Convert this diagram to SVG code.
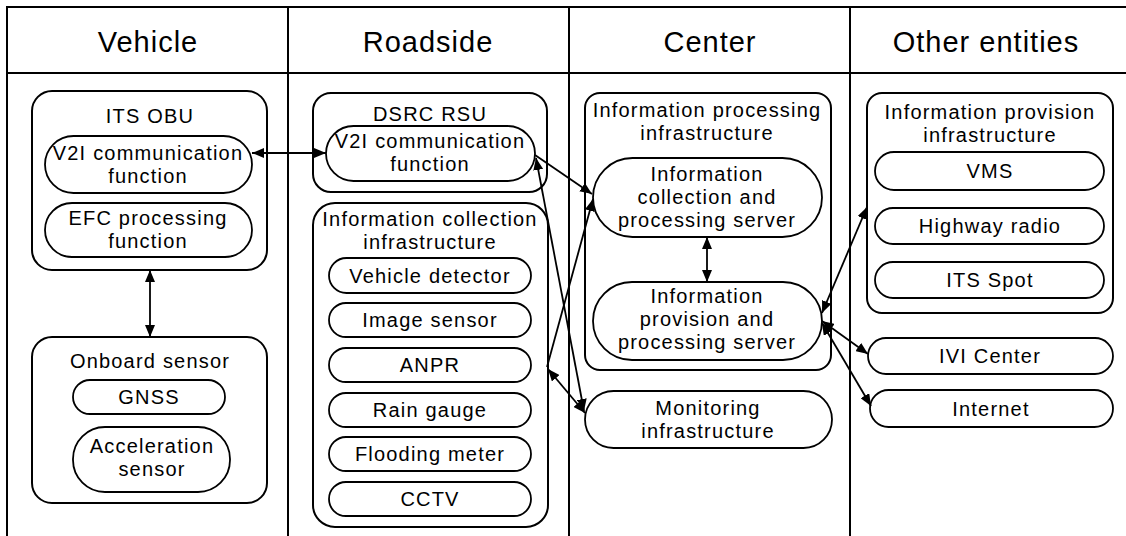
<svg xmlns="http://www.w3.org/2000/svg" width="1126" height="536" viewBox="0 0 1126 536">
<defs>
<style>
.grid{stroke:#000;stroke-width:2;fill:none}
.box{fill:#fff;stroke:#000;stroke-width:2}
.pill{fill:#fff;stroke:#000;stroke-width:1.8}
.t{font-family:"Liberation Sans",Arial,sans-serif;font-size:20px;letter-spacing:1.2px;fill:#000;text-anchor:middle}
.h{font-family:"Liberation Sans",Arial,sans-serif;font-size:29px;letter-spacing:1px;fill:#000;text-anchor:middle}
.c{stroke:#000;stroke-width:1.8;fill:none}
</style>
<marker id="ah" viewBox="0 0 12 10" refX="12" refY="5" markerWidth="12" markerHeight="10" markerUnits="userSpaceOnUse" orient="auto-start-reverse">
<path d="M0,0 L12,5 L0,10 z" fill="#000"/>
</marker>
</defs>
<rect width="1126" height="536" fill="#fff"/>
<g id="table">
<path class="grid" d="M7,536 V7 H1126 M7,73 H1126 M288,7 V536 M569,7 V536 M850,7 V536"/>
<text class="h" x="148" y="52">Vehicle</text>
<text class="h" x="428" y="52">Roadside</text>
<text class="h" x="710" y="52">Center</text>
<text class="h" x="986" y="52">Other entities</text>
</g>
<g id="its-obu">
<rect class="box" x="32" y="91" width="235" height="179" rx="20"/>
<text class="t" x="150" y="123">ITS OBU</text>
</g>
<g id="obu-v2i">
<rect class="pill" x="45" y="136" width="207" height="57" rx="28.5"/>
<text class="t" x="148" y="160">V2I communication</text>
<text class="t" x="148" y="183">function</text>
</g>
<g id="efc">
<rect class="pill" x="45" y="203" width="207" height="54" rx="27"/>
<text class="t" x="148" y="225">EFC processing</text>
<text class="t" x="148" y="248">function</text>
</g>
<g id="onboard-sensor">
<rect class="box" x="32" y="337" width="235" height="166" rx="20"/>
<text class="t" x="150" y="368">Onboard sensor</text>
</g>
<g id="gnss">
<rect class="pill" x="73" y="380" width="152" height="34" rx="17"/>
<text class="t" x="149" y="404">GNSS</text>
</g>
<g id="accel">
<rect class="pill" x="73" y="427" width="157" height="65" rx="32"/>
<text class="t" x="152" y="453">Acceleration</text>
<text class="t" x="152" y="476">sensor</text>
</g>
<g id="dsrc-rsu">
<rect class="box" x="313" y="93" width="234" height="99" rx="18"/>
<text class="t" x="430" y="121">DSRC RSU</text>
</g>
<g id="rsu-v2i">
<rect class="pill" x="326" y="126" width="209" height="55" rx="27.5"/>
<text class="t" x="430" y="148">V2I communication</text>
<text class="t" x="430" y="171">function</text>
</g>
<g id="info-collection-infra">
<rect class="box" x="313" y="203" width="235" height="324" rx="22"/>
<text class="t" x="430" y="226">Information collection</text>
<text class="t" x="430" y="249">infrastructure</text>
</g>
<g id="vehicle-detector">
<rect class="pill" x="329" y="258" width="202" height="35" rx="17.5"/>
<text class="t" x="430" y="283">Vehicle detector</text>
</g>
<g id="image-sensor">
<rect class="pill" x="329" y="303" width="202" height="34" rx="17"/>
<text class="t" x="430" y="327">Image sensor</text>
</g>
<g id="anpr">
<rect class="pill" x="329" y="348" width="202" height="34" rx="17"/>
<text class="t" x="430" y="372">ANPR</text>
</g>
<g id="rain-gauge">
<rect class="pill" x="329" y="393" width="202" height="34" rx="17"/>
<text class="t" x="430" y="417">Rain gauge</text>
</g>
<g id="flooding-meter">
<rect class="pill" x="329" y="437" width="202" height="34" rx="17"/>
<text class="t" x="430" y="461">Flooding meter</text>
</g>
<g id="cctv">
<rect class="pill" x="329" y="482" width="202" height="34" rx="17"/>
<text class="t" x="430" y="506">CCTV</text>
</g>
<g id="info-processing-infra">
<rect class="box" x="585" y="93" width="246" height="277" rx="15"/>
<text class="t" x="707" y="117">Information processing</text>
<text class="t" x="707" y="140">infrastructure</text>
</g>
<g id="collection-server">
<rect class="pill" x="593" y="158" width="229" height="79" rx="39.5"/>
<text class="t" x="707" y="181">Information</text>
<text class="t" x="707" y="204">collection and</text>
<text class="t" x="707" y="227">processing server</text>
</g>
<g id="provision-server">
<rect class="pill" x="593" y="282" width="229" height="78" rx="39"/>
<text class="t" x="707" y="303">Information</text>
<text class="t" x="707" y="326">provision and</text>
<text class="t" x="707" y="349">processing server</text>
</g>
<g id="monitoring">
<rect class="pill" x="585" y="391" width="247" height="57" rx="28.5"/>
<text class="t" x="708" y="415">Monitoring</text>
<text class="t" x="708" y="438">infrastructure</text>
</g>
<g id="info-provision-infra">
<rect class="box" x="867" y="93" width="246" height="220" rx="15"/>
<text class="t" x="990" y="119">Information provision</text>
<text class="t" x="990" y="142">infrastructure</text>
</g>
<g id="vms">
<rect class="pill" x="875" y="152" width="229" height="38" rx="19"/>
<text class="t" x="990" y="178">VMS</text>
</g>
<g id="highway-radio">
<rect class="pill" x="875" y="208" width="229" height="36" rx="18"/>
<text class="t" x="990" y="233">Highway radio</text>
</g>
<g id="its-spot">
<rect class="pill" x="875" y="262" width="229" height="36" rx="18"/>
<text class="t" x="990" y="287">ITS Spot</text>
</g>
<g id="ivi-center">
<rect class="pill" x="868" y="338" width="245" height="36" rx="18"/>
<text class="t" x="990" y="363">IVI Center</text>
</g>
<g id="internet">
<rect class="pill" x="870" y="390" width="243" height="37" rx="18.5"/>
<text class="t" x="991" y="416">Internet</text>
</g>
<g id="connectors">
<line class="c" x1="252" y1="153" x2="326" y2="153" marker-start="url(#ah)" marker-end="url(#ah)"/>
<line class="c" x1="150" y1="270" x2="150" y2="337" marker-start="url(#ah)" marker-end="url(#ah)"/>
<line class="c" x1="535" y1="155" x2="592" y2="194" marker-end="url(#ah)"/>
<line class="c" x1="536" y1="158" x2="584" y2="411" marker-start="url(#ah)" marker-end="url(#ah)"/>
<line class="c" x1="547" y1="367" x2="593" y2="199" marker-end="url(#ah)"/>
<line class="c" x1="548" y1="369" x2="585" y2="413" marker-start="url(#ah)" marker-end="url(#ah)"/>
<line class="c" x1="707" y1="237" x2="707" y2="282" marker-start="url(#ah)" marker-end="url(#ah)"/>
<line class="c" x1="822" y1="313" x2="867" y2="207" marker-start="url(#ah)" marker-end="url(#ah)"/>
<line class="c" x1="822" y1="321" x2="868" y2="354" marker-start="url(#ah)" marker-end="url(#ah)"/>
<line class="c" x1="822" y1="323" x2="871" y2="406" marker-start="url(#ah)" marker-end="url(#ah)"/>
</g>
</svg>
